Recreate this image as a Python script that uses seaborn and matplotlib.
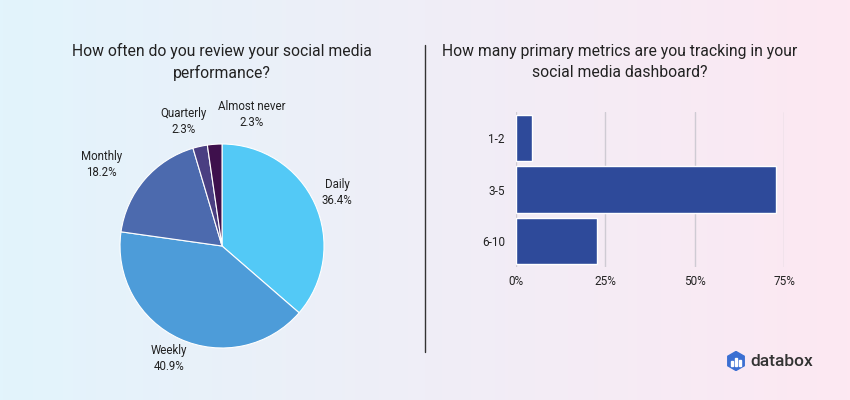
import numpy as np
import pandas as pd
import matplotlib
matplotlib.use("Agg")
import matplotlib.pyplot as plt
import seaborn as sns
from matplotlib.lines import Line2D
from matplotlib.patches import RegularPolygon, Rectangle

# données du camembert
freq_labels = ["Daily", "Weekly", "Monthly", "Quarterly", "Almost never"]
freq_values = [36.4, 40.9, 18.2, 2.3, 2.3]
freq_colors = ["#53C9F6", "#4D9CD9", "#4C6AAE", "#4A3F82", "#3E104C"]

# données des barres
metric_labels = ["1-2", "3-5", "6-10"]
metric_values = [4.5, 72.7, 22.7]
x_ticks = [0, 25, 50, 75]

sns.set_theme(style="white")
plt.rcParams["font.family"] = ["Roboto", "DejaVu Sans"]

fig = plt.figure(figsize=(8.5, 4), dpi=100)

# fond dégradé bleu -> rose
bg = fig.add_axes([0, 0, 1, 1], zorder=-10)
left_c = np.array([226, 244, 252]) / 255
right_c = np.array([253, 232, 242]) / 255
t = np.linspace(0, 1, 256)
grad = left_c[None, :] * (1 - t[:, None]) + right_c[None, :] * t[:, None]
bg.imshow(grad[None, :, :], aspect="auto", extent=[0, 1, 0, 1])
bg.axis("off")

txt = "#222222"

# Camembert
ax1 = fig.add_axes([0.1412, 0.13, 0.24, 0.51])
ax1.pie(freq_values, colors=freq_colors, startangle=90, counterclock=False,
        wedgeprops=dict(linewidth=0.8, edgecolor="white"))
ax1.set_xlim(-1, 1)
ax1.set_ylim(-1, 1)
ax1.set_aspect("equal")
label_pos = {
    "Daily": (1.13, 0.52),
    "Weekly": (-0.52, -1.10),
    "Monthly": (-1.18, 0.80),
    "Quarterly": (-0.38, 1.22),
    "Almost never": (0.29, 1.29),
}
for lab, val in zip(freq_labels, freq_values):
    x, y = label_pos[lab]
    ax1.text(x, y, f"{lab}\n{val:.1f}%", ha="center", va="center",
             fontsize=8.3, color=txt, linespacing=1.3, clip_on=False)

fig.text(222 / 850, 1 - 62 / 400,
         "How often do you review your social media\nperformance?",
         ha="center", va="center", fontsize=11.3, color=txt, linespacing=1.45)

# Barres horizontales
ax2 = fig.add_axes([516 / 850, 1 - 267 / 400, 268 / 850, 155 / 400])
df = pd.DataFrame({"metrics": metric_labels, "share": metric_values})
sns.barplot(data=df, y="metrics", x="share", color="#2E4A9A", width=0.9,
            saturation=1, ax=ax2, zorder=3)
ax2.set_facecolor("none")
ax2.set_xlim(0, 75)
ax2.set_xticks(x_ticks)
ax2.set_xticklabels([f"{v}%" for v in x_ticks])
ax2.set_xlabel("")
ax2.set_ylabel("")
for s in ax2.spines.values():
    s.set_visible(False)
for v in x_ticks:
    ax2.axvline(v, color="#CFCBD3", lw=1, zorder=1)
ax2.tick_params(axis="both", length=0, labelsize=8.5, colors=txt)
ax2.tick_params(axis="y", pad=8)
ax2.tick_params(axis="x", pad=6)

fig.text(620 / 850, 1 - 62 / 400,
         "How many primary metrics are you tracking in your\nsocial media dashboard?",
         ha="center", va="center", fontsize=11.3, color=txt, linespacing=1.45)

# séparateur
fig.add_artist(Line2D([425 / 850, 425 / 850], [1 - 45 / 400, 1 - 352 / 400],
                      color="#333333", lw=1))

# logo databox
lg = fig.add_axes([726 / 850, 1 - 371 / 400, 20 / 850, 20 / 400])
lg.set_xlim(-1, 1)
lg.set_ylim(-1, 1)
lg.set_aspect("equal")
lg.axis("off")
lg.add_patch(RegularPolygon((0, 0), numVertices=6, radius=0.95, orientation=0,
                            color="#3B6FD2"))
for bx, h in [(-0.38, 0.45), (0.0, 0.8), (0.38, 0.6)]:
    lg.add_patch(Rectangle((bx - 0.1, -0.45), 0.2, h, color="white"))
fig.text(750 / 850, 1 - 361 / 400, "databox", ha="left", va="center",
         fontsize=12.5, color="#333333", fontweight="medium")

fig.savefig("out.png", dpi=100)
